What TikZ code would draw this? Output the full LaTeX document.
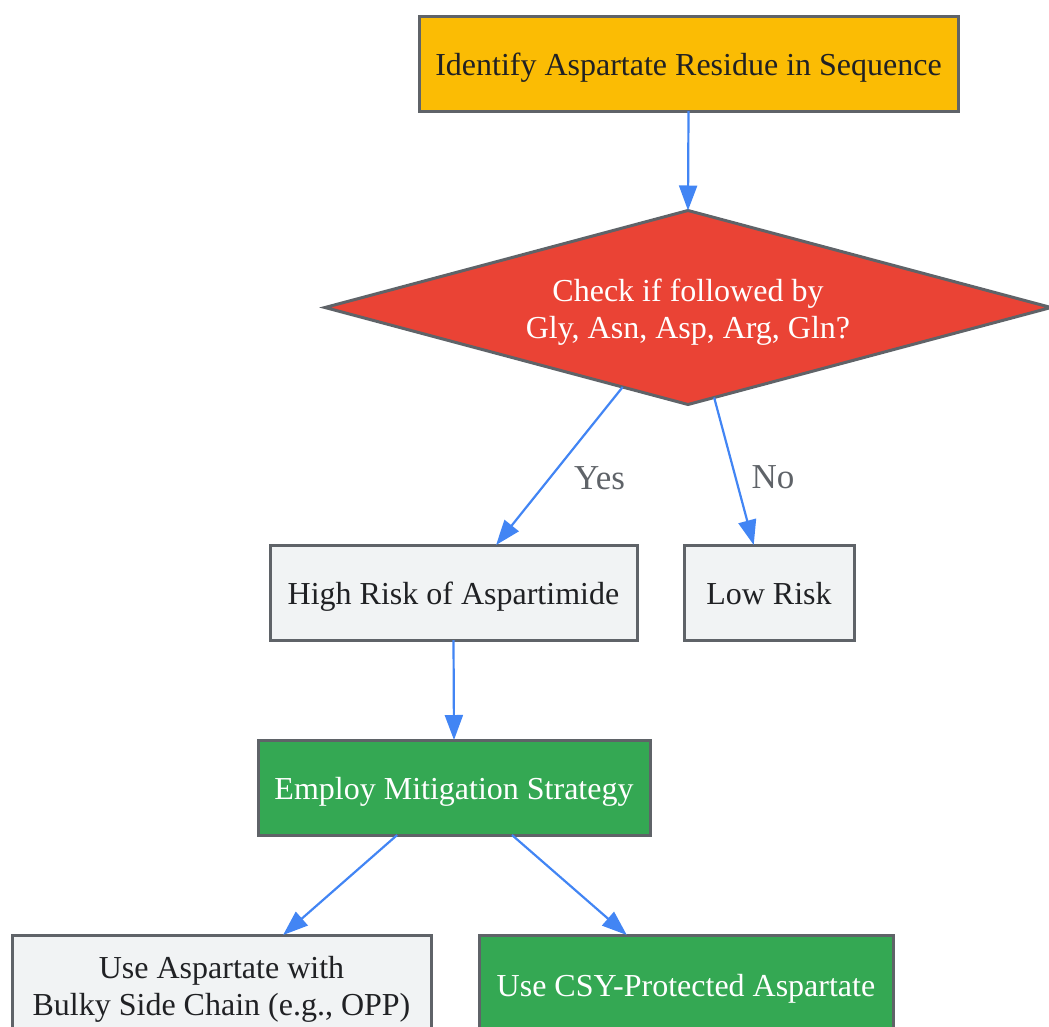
\documentclass[tikz,border=0pt]{standalone}
\usepackage{fontspec}
\setmainfont{Liberation Serif}
\usetikzlibrary{shapes.geometric,arrows.meta,calc}
\definecolor{bordergray}{HTML}{5F6368}
\definecolor{textdark}{HTML}{202124}
\definecolor{gyellow}{HTML}{FBBC04}
\definecolor{gred}{HTML}{EA4335}
\definecolor{ggreen}{HTML}{34A853}
\definecolor{glight}{HTML}{F1F3F4}
\definecolor{gblue}{HTML}{4285F4}
\tikzset{
  x=1pt,y=1pt,
  basebox/.style={draw=bordergray, line width=3pt, rectangle, inner sep=0pt, outer sep=0pt,
    font=\fontsize{32}{37}\selectfont, align=center, text height=30pt, text depth=7pt},
  twoline/.style={text height=70pt, text depth=8pt},
  yellowbox/.style={basebox, fill=gyellow, text=textdark},
  lightbox/.style={basebox, fill=glight, text=textdark},
  greenbox/.style={basebox, fill=ggreen, text=white},
  decision/.style={draw=bordergray, line width=3pt, diamond, fill=gred, text=white,
    inner sep=0pt, outer sep=0pt, aspect=3.74, font=\fontsize{32}{37}\selectfont, align=center},
  flow/.style={draw=gblue, line width=2.2pt, -{Triangle[length=25pt,width=18pt]}},
  elabel/.style={text=bordergray, font=\fontsize{35}{40}\selectfont, inner sep=0pt},
}
\begin{document}
\begin{tikzpicture}
\useasboundingbox (0,0) rectangle (1049,-1026);
\node[yellowbox, minimum width=539pt, minimum height=95pt] (id) at (688.5,-63.5) {Identify Aspartate Residue in Sequence};
\node[decision, twoline, minimum width=726pt, minimum height=194pt] (ck) at (688,-307.5) {Check if followed by\\Gly, Asn, Asp, Arg, Gln?};
\node[lightbox, minimum width=367pt, minimum height=95pt] (hr) at (453.5,-592.5) {High Risk of Aspartimide};
\node[lightbox, minimum width=170pt, minimum height=95pt] (lr) at (769,-592.5) {Low Risk};
\node[greenbox, minimum width=392pt, minimum height=95pt] (em) at (454,-787.5) {Employ Mitigation Strategy};
\node[lightbox, twoline, minimum width=419pt, minimum height=99pt] (bk) at (221.5,-984.5) {Use Aspartate with\\Bulky Side Chain (e.g., OPP)};
\node[greenbox, minimum width=414pt, minimum height=99pt] (cs) at (686,-984.5) {Use CSY-Protected Aspartate};

\draw[flow] (id.south) -- (ck.north);
\draw[flow] ($(ck.south)!0.18!(ck.west)$) -- node[elabel, pos=0.574, anchor=west, xshift=23pt] (yes) {Yes} ($(hr.north west)!0.616!(hr.north east)$);
\draw[flow] ($(ck.south)!0.072!(ck.east)$) -- node[elabel, pos=0.538, anchor=west, xshift=15pt] (no) {No} ($(lr.north west)!0.41!(lr.north east)$);
\draw[flow] (hr.south) -- (em.north);
\draw[flow] ($(em.south west)!0.355!(em.south east)$) -- ($(bk.north west)!0.647!(bk.north east)$);
\draw[flow] ($(em.south west)!0.648!(em.south east)$) -- ($(cs.north west)!0.357!(cs.north east)$);
\end{tikzpicture}
\end{document}
